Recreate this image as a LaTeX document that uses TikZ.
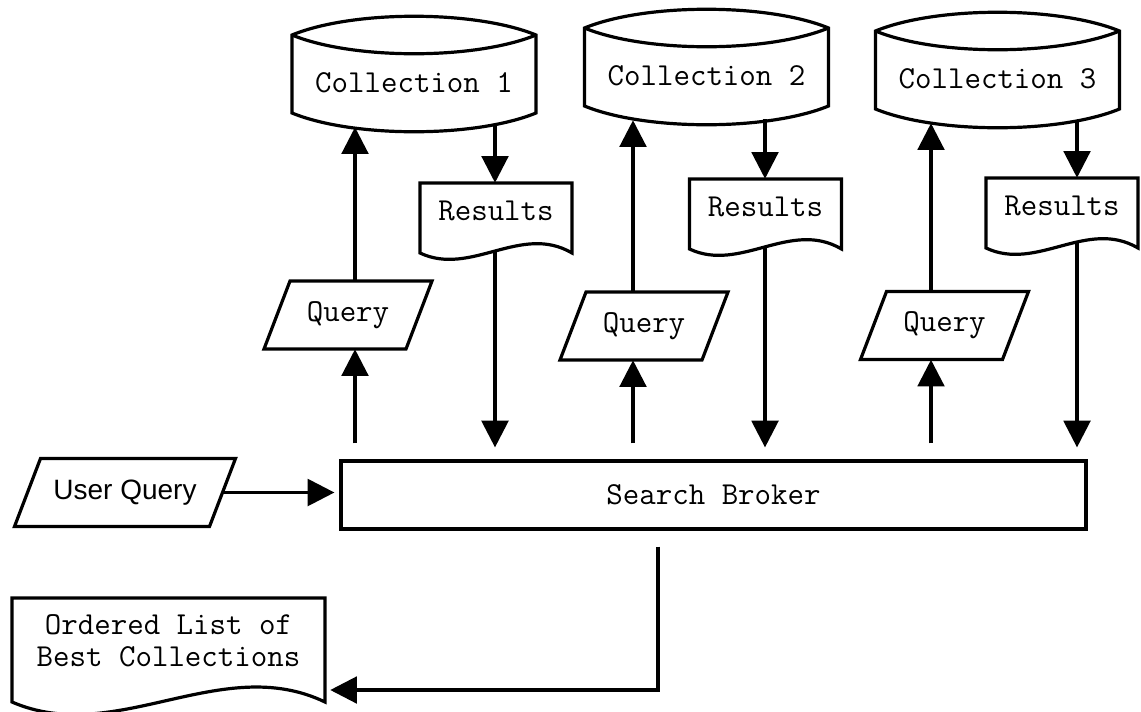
\documentclass[tikz,border=0pt]{standalone}
\usepackage{fontspec}
\setmainfont{Liberation Sans}
\usetikzlibrary{calc}
\usetikzlibrary{arrows.meta}

\tikzset{
  wire/.style={line width=2.4pt},
  arr/.style={wire, -{Triangle[length=20pt,width=20pt]}},
  mono/.style={font=\fontsize{24}{24}\selectfont\ttfamily, inner sep=0pt},
  plain/.style={font=\fontsize{21}{24}\selectfont, inner sep=0pt},
}

% drum for a collection: name, x, y, label
\newcommand{\collnode}[4]{
  \node[mono, minimum width=183pt, minimum height=67.5pt] (#1) at (#2,#3) {#4};
  \draw[wire] ($(#1)+(-122,30)$) -- ($(#1)+(-122,-48)$) .. controls +(61,-25) and +(-61,-25) .. ($(#1)+(122,-48)$) -- ($(#1)+(122,30)$) .. controls +(-61,25) and +(61,25) .. ($(#1)+(-122,30)$) -- cycle;
  \draw[wire] ($(#1)+(-122,-48)$) .. controls +(61,25) and +(-61,25) .. ($(#1)+(122,-48)$);
}
% document sheet with wavy bottom: name, x, y, label
\newcommand{\resnode}[4]{
  \node[mono, minimum width=114pt, minimum height=42pt] (#1) at (#2,#3) {#4};
  \draw[wire] ($(#1)+(-76,42)$) -- ($(#1)+(-76,-28)$) -- ($(#1)+(76,-28)$) -- ($(#1)+(76,42)$) .. controls +(-51,-30) and +(51,24) .. ($(#1)+(-76,42)$) -- cycle;
}
% slanted data box: name, style, x, y, half width, label
\newcommand{\slantnode}[6]{
  \node[#2, minimum width=1.5*#5pt, minimum height=51pt] (#1) at (#3,#4) {#6};
  \draw[wire] ($(#1)+(-#5-13,34)$) -- ($(#1)+(#5-13,34)$) -- ($(#1)+(#5+13,-34)$) -- ($(#1)+(-#5+13,-34)$) -- cycle;
}

\begin{document}
\begin{tikzpicture}[x=0.75pt, y=-0.75pt]
        \useasboundingbox (0,0) rectangle (1141,711);

        %collections and their results
        \collnode{c1}{414}{83}{Collection 1}
        \collnode{c2}{706.5}{76}{Collection 2}
        \collnode{c3}{997.5}{79}{Collection 3}
        \resnode{r1}{496}{211}{Results}
        \resnode{r2}{765.5}{207}{Results}
        \resnode{r3}{1062}{206}{Results}

        %queries
        \slantnode{q1}{mono}{348}{315}{71}{Query}
        \slantnode{q2}{mono}{644}{326}{71}{Query}
        \slantnode{q3}{mono}{944.5}{325.5}{71}{Query}
        \slantnode{uq}{plain}{125}{492.5}{97.5}{User Query}

        %broker and output list
        \node[mono, wire, draw, minimum width=558.75pt, minimum height=51pt] (b) at (713.5,495) {Search Broker};
        \node[mono, align=center, minimum width=234.75pt] (ol) at (168.5,641) {Ordered List of\\Best Collections};
        \draw[wire] ($(ol)+(156.5,61)$) -- ($(ol)+(156.5,-43)$) -- ($(ol)+(-156.5,-43)$) -- ($(ol)+(-156.5,61)$) .. controls +(104,45) and +(-104,-50) .. ($(ol)+(156.5,61)$) -- cycle;

        %arrows
        \foreach \i/\ux/\dx/\rs in {1/355/495/13, 2/633/765/13, 3/931/1077/9} {
          \coordinate (u\i) at (\ux,0);
          \coordinate (d\i) at (\dx,0);
          \draw[arr] ($(b.north -| u\i)+(0,-16)$) -- (q\i.south -| u\i);
          \draw[arr] (q\i.north -| u\i) -- ($(c\i.south -| u\i)+(0,-1)$);
          \draw[arr] ($(c\i.south -| d\i)+(0,-2)$) -- (r\i.north -| d\i);
          \draw[arr] ($(r\i.south -| d\i)+(0,\rs)$) -- ($(b.north -| d\i)+(0,-12)$);
        }
        \draw[arr] (uq.east) -- ($(b.west |- uq.east)+(-5,0)$);
        \coordinate (elbow) at (658,690);
        \draw[arr] ($(b.south -| elbow)+(0,16)$) -- (elbow) -- ($(ol.east |- elbow)+(5,0)$);

\end{tikzpicture}
\end{document}
